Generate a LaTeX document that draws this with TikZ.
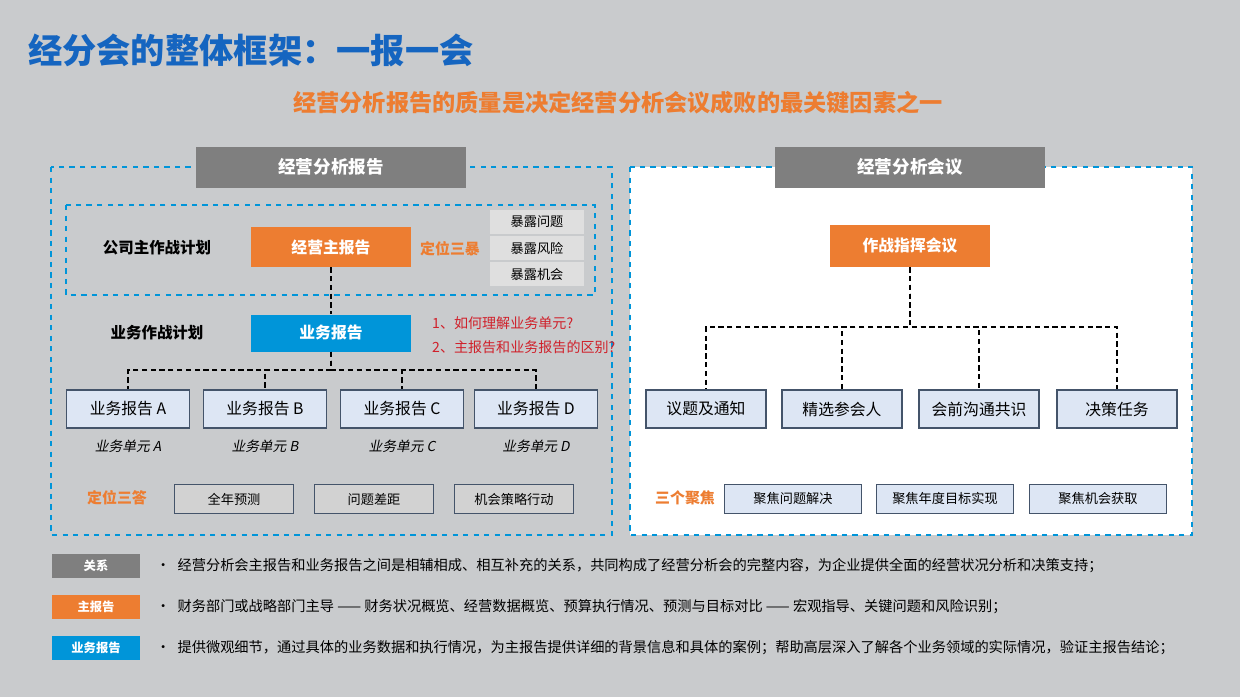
\documentclass[tikz,border=0pt]{standalone}
\usepackage{fontspec}
\setmainfont{Noto Sans CJK SC}
\newfontfamily\slantcjk[FakeSlant=0.2]{Noto Sans CJK SC}
\usetikzlibrary{positioning}
\definecolor{bgray}{HTML}{C9CBCD}
\definecolor{torange}{HTML}{ED7D31}
\definecolor{tblue}{HTML}{1565C0}
\definecolor{rblue}{HTML}{0095D9}
\definecolor{hgray}{HTML}{7F7F7F}
\definecolor{ublue}{HTML}{DDE6F4}
\definecolor{udraw}{HTML}{44546A}
\definecolor{qred}{HTML}{D0202A}
\tikzset{
  hdr/.style={fill=hgray, text=white, font=\bfseries\fontsize{10}{12}\selectfont, minimum width=5.4cm, minimum height=0.82cm},
  mainbox/.style={fill=#1, text=white, font=\bfseries\fontsize{9}{11}\selectfont, minimum width=3.2cm, minimum height=0.8cm},
  unitbox/.style={fill=ublue, draw=udraw, thick, font=\fontsize{9}{11}\selectfont, minimum width=2.45cm, minimum height=0.76cm},
  ansbox/.style={fill=#1, draw=udraw, thick, font=\fontsize{7.5}{9}\selectfont, minimum height=0.58cm},
  expbox/.style={fill=gray!25, font=\fontsize{7.5}{9}\selectfont, minimum width=1.9cm, minimum height=0.42cm},
  tag/.style={fill=#1, text=white, font=\bfseries\fontsize{7}{9}\selectfont, minimum width=1.78cm, minimum height=0.46cm},
  lnote/.style={font=\fontsize{7.5}{9}\selectfont, anchor=west},
  plan/.style={font=\bfseries\fontsize{8.8}{10}\selectfont},
  conn/.style={densely dashed, thick}
}
\begin{document}
\begin{tikzpicture}[x=0.02cm, y=-0.02cm]
  \fill[bgray] (0,0) rectangle (1240,697);
  \useasboundingbox (0,0) rectangle (1240,697);
  % titles
  \node[anchor=west, text=tblue, font=\bfseries\fontsize{19.5}{22}\selectfont] (title) at (22,50) {经分会的整体框架：一报一会};
  \node[text=torange, font=\bfseries\fontsize{13.2}{15}\selectfont] (subtitle) at (618,103) {经营分析报告的质量是决定经营分析会议成败的最关键因素之一};
  % panels
  \draw[rblue, dashed, thick] (51,167) rectangle (612,535);
  \draw[rblue, dashed, thick, fill=white] (630,167) rectangle (1192,535);
  \node[hdr] (lhdr) at (331,167) {经营分析报告};
  \node[hdr] (rhdr) at (910,167) {经营分析会议};
  % left: report
  \draw[rblue, dashed, thick] (66,205) rectangle (595,295);
  \node[plan] (corp) at (157,248) {公司主作战计划};
  \node[mainbox=torange] (main) at (331,247) {经营主报告};
  \node[text=torange, font=\bfseries\fontsize{8.5}{10}\selectfont] (pos3) at (450,249) {定位三暴};
  \node[expbox] (e1) at (537,222) {暴露问题};
  \node[expbox] (e2) at (537,248) {暴露风险};
  \node[expbox] (e3) at (537,274) {暴露机会};
  \node[plan] (biz) at (157,333) {业务作战计划};
  \node[mainbox=rblue, minimum height=0.74cm] (rep) at (331,333) {业务报告};
  \node[lnote, text=qred, font=\fontsize{8}{9}\selectfont] (q1) at (426,323) {1、如何理解业务单元?};
  \node[lnote, text=qred, font=\fontsize{8}{9}\selectfont] (q2) at (426,347) {2、主报告和业务报告的区别?};
  \draw[conn] (main) -- (rep);
  \coordinate (lbus) at (331,370);
  \foreach \n/\x in {A/128, B/265, C/402, D/536} {
    \node[unitbox] (u\n) at (\x,409) {业务报告 \n};
    \node[font=\slantcjk\fontsize{7.8}{9}\selectfont] (l\n) at (\x,446) {业务单元 \n};
    \draw[conn] (rep) -- (lbus) -| (u\n);
  }
  \node[text=torange, font=\bfseries\fontsize{8.5}{10}\selectfont] (ans3) at (117,498) {定位三答};
  \node[ansbox=gray!35, minimum width=2.38cm] (a1) at (234,499) {全年预测};
  \node[ansbox=gray!35, minimum width=2.38cm] (a2) at (374,499) {问题差距};
  \node[ansbox=gray!35, minimum width=2.38cm] (a3) at (514,499) {机会策略行动};
  % right: meeting
  \node[mainbox=torange, minimum height=0.84cm] (cmd) at (910,246) {作战指挥会议};
  \coordinate (rbus) at (910,327);
  \foreach \n/\t/\x in {m1/议题及通知/706, m2/精选参会人/842, m3/会前沟通共识/979, m4/决策任务/1117} {
    \node[unitbox, minimum width=2.4cm] (\n) at (\x,409) {\t};
    \draw[conn] (cmd) -- (rbus) -| (\n);
  }
  \node[text=torange, font=\bfseries\fontsize{8.5}{10}\selectfont] (foc3) at (685,498) {三个聚焦};
  \node[ansbox=ublue, minimum width=2.74cm] (f1) at (793,499) {聚焦问题解决};
  \node[ansbox=ublue, minimum width=2.74cm] (f2) at (945,499) {聚焦年度目标实现};
  \node[ansbox=ublue, minimum width=2.74cm] (f3) at (1098,499) {聚焦机会获取};
  % legend
  \node[tag=hgray] (t1) at (96,566) {关系};
  \node[tag=torange] (t2) at (96,607) {主报告};
  \node[tag=rblue] (t3) at (96,648) {业务报告};
  \node[lnote, font=\fontsize{8.1}{9}\selectfont] (n1) at (150,566) {•\enspace 经营分析会主报告和业务报告之间是相辅相成、相互补充的关系，共同构成了经营分析会的完整内容，为企业提供全面的经营状况分析和决策支持；};
  \node[lnote, font=\fontsize{8.1}{9}\selectfont] (n2) at (150,607) {•\enspace 财务部门或战略部门主导 —— 财务状况概览、经营数据概览、预算执行情况、预测与目标对比 —— 宏观指导、关键问题和风险识别；};
  \node[lnote, font=\fontsize{8.1}{9}\selectfont] (n3) at (150,648) {•\enspace 提供微观细节，通过具体的业务数据和执行情况，为主报告提供详细的背景信息和具体的案例；帮助高层深入了解各个业务领域的实际情况，验证主报告结论；};
\end{tikzpicture}
\end{document}
